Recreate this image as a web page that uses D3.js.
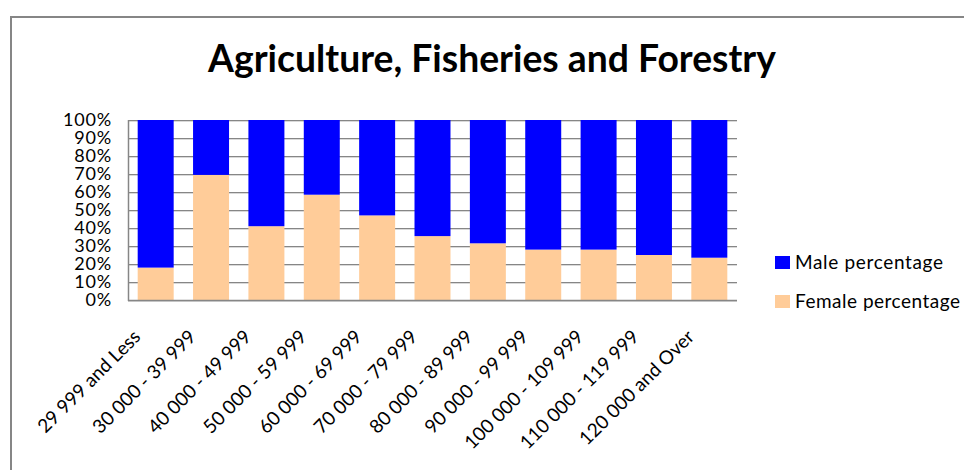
<!DOCTYPE html>
<html>
<head>
<meta charset="utf-8">
<script src="https://cdn.jsdelivr.net/npm/d3@7"></script>
<style>
  html, body { margin: 0; padding: 0; background: #fff; }
  svg { display: block; font-family: Lato, "Open Sans", sans-serif; }
</style>
</head>
<body>
<div id="chart"></div>
<script>
const categories = [
  '29 999 and Less', '30 000 - 39 999', '40 000 - 49 999', '50 000 - 59 999',
  '60 000 - 69 999', '70 000 - 79 999', '80 000 - 89 999', '90 000 - 99 999',
  '100 000 - 109 999', '110 000 - 119 999', '120 000 and Over'
];
const femalePct = [18, 69.5, 41, 58.5, 47, 35.5, 31.5, 28, 28, 25, 23.5];
const malePct = [82, 30.5, 59, 41.5, 53, 64.5, 68.5, 72, 72, 75, 76.5];
const yTicks = [0, 10, 20, 30, 40, 50, 60, 70, 80, 90, 100];
const seriesNames = ['Male percentage', 'Female percentage'];
const colours = { male: '#0000ff', female: '#ffcc99' };

const width = 964;
const height = 470;
const plot = { left: 128, right: 737, top: 120, bottom: 300 };

const svg = d3.select('#chart').append('svg')
  .attr('width', width)
  .attr('height', height);

// outer frame (only top and left edges are visible in the window)
svg.append('path')
  .attr('d', `M11,${height + 5} V17 H${width + 5}`)
  .attr('fill', 'none')
  .attr('stroke', '#868686')
  .attr('stroke-width', 2);

// title, fitted to the width it takes in the original
const title = svg.append('text')
  .attr('x', 492)
  .attr('y', 72)
  .attr('text-anchor', 'middle')
  .attr('font-weight', 'bold')
  .attr('font-size', 32)
  .attr('fill', '#000')
  .text('Agriculture, Fisheries and Forestry');
const tw = title.node().getComputedTextLength();
title.attr('font-size', 32 * 568 / tw);

const x = d3.scaleBand()
  .domain(categories)
  .range([plot.left, plot.right])
  .paddingInner(0.35)
  .paddingOuter(0.175);

const y = d3.scaleLinear()
  .domain([0, 100])
  .range([plot.bottom, plot.top]);

// gridlines with the faint shadow line under each
const grid = svg.append('g');
grid.selectAll('line.shadow')
  .data(yTicks)
  .join('line')
  .attr('class', 'shadow')
  .attr('x1', plot.left).attr('x2', plot.right)
  .attr('y1', d => y(d) + 1.5).attr('y2', d => y(d) + 1.5)
  .attr('stroke', '#d9d9d9');
grid.selectAll('line.major')
  .data(yTicks)
  .join('line')
  .attr('class', 'major')
  .attr('x1', plot.left).attr('x2', plot.right)
  .attr('y1', d => y(d) + 0.5).attr('y2', d => y(d) + 0.5)
  .attr('stroke', '#868686');

// stacked bars: female at the bottom, male on top
const rows = categories.map((c, i) => ({ cat: c, female: femalePct[i], male: malePct[i] }));
const stacked = d3.stack().keys(['female', 'male'])(rows);

svg.append('g').selectAll('g')
  .data(stacked)
  .join('g')
  .attr('fill', d => colours[d.key])
  .selectAll('rect')
  .data(d => d)
  .join('rect')
  .attr('x', d => x(d.data.cat))
  .attr('width', x.bandwidth())
  .attr('y', d => y(d[1]))
  .attr('height', d => y(d[0]) - y(d[1]));

// axes lines
svg.append('line')
  .attr('x1', plot.left + 0.5).attr('x2', plot.left + 0.5)
  .attr('y1', plot.top).attr('y2', plot.bottom + 1)
  .attr('stroke', '#868686').attr('stroke-width', 1.5);
svg.append('line')
  .attr('x1', plot.left).attr('x2', plot.right)
  .attr('y1', plot.bottom + 0.5).attr('y2', plot.bottom + 0.5)
  .attr('stroke', '#868686').attr('stroke-width', 1.5);

// y axis labels
const yAxis = d3.axisLeft(y)
  .tickValues(yTicks)
  .tickFormat(d => d + '%')
  .tickSize(0)
  .tickPadding(16);
svg.append('g')
  .attr('transform', `translate(${plot.left},0)`)
  .call(yAxis)
  .call(g => g.select('.domain').remove())
  .call(g => g.selectAll('text')
    .attr('font-family', 'Lato, sans-serif')
    .attr('font-size', 18)
    .attr('letter-spacing', 0.8)
    .attr('fill', '#000'));

// x axis labels, rotated
const xAxis = d3.axisBottom(x).tickSize(0).tickPadding(0);
svg.append('g')
  .attr('transform', `translate(0,${plot.bottom})`)
  .call(xAxis)
  .call(g => g.select('.domain').remove())
  .call(g => g.selectAll('text')
    .attr('font-family', 'Lato, sans-serif')
    .attr('font-size', 19)
    .attr('fill', '#000')
    .attr('text-anchor', 'end')
    .attr('dy', 0)
    .attr('transform', 'translate(-14,38) rotate(-45)'));

// legend
const legendWidths = [148, 165];
const legend = svg.append('g')
  .selectAll('g')
  .data(seriesNames)
  .join('g')
  .attr('transform', (d, i) => `translate(775,${256 + i * 39})`);
legend.append('rect')
  .attr('width', 15).attr('height', 13)
  .attr('fill', (d, i) => i === 0 ? colours.male : colours.female);
legend.append('text')
  .attr('x', 20)
  .attr('y', 13)
  .attr('font-size', 19)
  .attr('fill', '#000')
  .attr('textLength', (d, i) => legendWidths[i])
  .attr('lengthAdjust', 'spacing')
  .text(d => d);
</script>
</body>
</html>
